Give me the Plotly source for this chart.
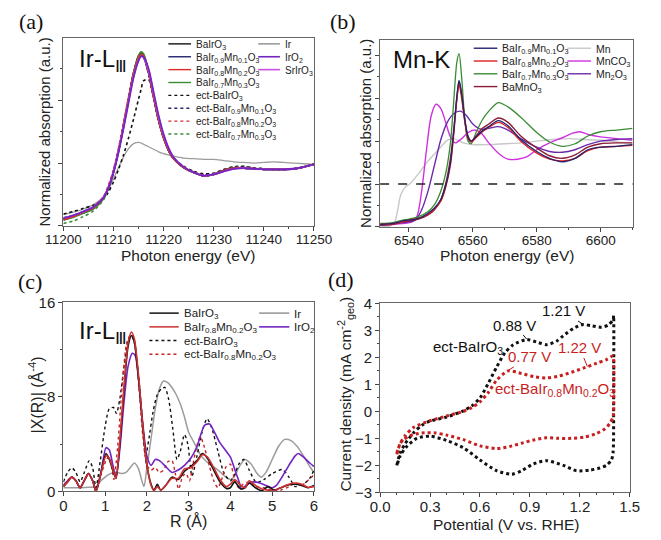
import plotly.graph_objects as go

W, H = 661, 540
def px(x): return x / W
def py(y): return 1 - y / H

SANS = "Liberation Sans, Arial, sans-serif"
SERIF = "Liberation Serif, Times New Roman, serif"

# ---------------- Panel (a): Ir L-III XANES ----------------
E_a = [11200, 11202, 11204, 11206, 11208, 11209, 11210, 11211, 11212, 11213, 11214, 11215, 11215.5,
       11216, 11217, 11218, 11219, 11220, 11221, 11222, 11224, 11226, 11228, 11230, 11232, 11234,
       11236, 11238, 11240, 11242, 11244, 11246, 11248, 11250]
a_BaIrO3 = [0.10, 0.15, 0.21, 0.28, 0.44, 0.61, 0.86, 1.20, 1.60, 2.03, 2.44, 2.71, 2.76, 2.72, 2.45,
            2.05, 1.68, 1.40, 1.20, 1.07, 0.93, 0.85, 0.80, 0.82, 0.88, 0.92, 0.92, 0.91, 0.90, 0.90,
            0.90, 0.91, 0.94, 0.98]
a_Mn01 = [0.11, 0.16, 0.22, 0.29, 0.44, 0.60, 0.85, 1.18, 1.58, 2.00, 2.40, 2.66, 2.71, 2.68, 2.43,
          2.05, 1.68, 1.40, 1.20, 1.07, 0.93, 0.85, 0.80, 0.82, 0.88, 0.92, 0.92, 0.91, 0.90, 0.90,
          0.90, 0.91, 0.94, 0.98]
a_Mn02 = [0.10, 0.15, 0.22, 0.29, 0.45, 0.62, 0.87, 1.21, 1.61, 2.03, 2.42, 2.68, 2.73, 2.70, 2.44,
          2.05, 1.68, 1.40, 1.20, 1.07, 0.93, 0.85, 0.80, 0.82, 0.88, 0.92, 0.92, 0.91, 0.90, 0.90,
          0.90, 0.91, 0.94, 0.98]
a_Mn03 = [0.09, 0.14, 0.20, 0.27, 0.43, 0.60, 0.85, 1.19, 1.60, 2.02, 2.43, 2.71, 2.77, 2.74, 2.47,
          2.06, 1.69, 1.40, 1.20, 1.07, 0.93, 0.85, 0.80, 0.82, 0.88, 0.92, 0.92, 0.91, 0.90, 0.90,
          0.90, 0.91, 0.94, 0.98]
a_Ir = [0.18, 0.22, 0.27, 0.34, 0.46, 0.58, 0.75, 0.93, 1.10, 1.23, 1.31, 1.33, 1.32, 1.30, 1.26,
        1.22, 1.18, 1.15, 1.13, 1.11, 1.08, 1.07, 1.06, 1.06, 1.04, 1.02, 1.01, 1.00, 1.01, 1.02,
        1.01, 1.00, 0.99, 0.98]
a_IrO2 = [0.12, 0.17, 0.23, 0.30, 0.45, 0.61, 0.85, 1.17, 1.55, 1.96, 2.36, 2.63, 2.70, 2.69, 2.50,
          2.13, 1.76, 1.46, 1.24, 1.09, 0.94, 0.85, 0.80, 0.82, 0.87, 0.91, 0.92, 0.91, 0.90, 0.90,
          0.90, 0.91, 0.94, 0.98]
a_SrIrO3 = [0.12, 0.17, 0.23, 0.30, 0.46, 0.62, 0.87, 1.20, 1.58, 1.99, 2.38, 2.64, 2.70, 2.68, 2.47,
            2.10, 1.73, 1.44, 1.23, 1.09, 0.94, 0.85, 0.80, 0.82, 0.87, 0.91, 0.92, 0.91, 0.90, 0.90,
            0.90, 0.91, 0.94, 0.98]
a_ectBaIrO3 = [0.19, 0.23, 0.28, 0.33, 0.43, 0.54, 0.70, 0.90, 1.13, 1.40, 1.70, 2.02, 2.17, 2.31,
               2.33, 2.05, 1.70, 1.42, 1.22, 1.08, 0.95, 0.87, 0.83, 0.84, 0.90, 0.94, 0.95, 0.92,
               0.91, 0.90, 0.90, 0.91, 0.94, 0.98]
a_ectMn01 = [0.13, 0.17, 0.23, 0.30, 0.45, 0.62, 0.87, 1.20, 1.60, 2.02, 2.42, 2.68, 2.73, 2.70, 2.44,
             2.05, 1.68, 1.40, 1.20, 1.07, 0.93, 0.86, 0.81, 0.83, 0.89, 0.93, 0.94, 0.92, 0.91, 0.90,
             0.90, 0.91, 0.94, 0.98]
a_ectMn02 = [0.11, 0.16, 0.22, 0.30, 0.47, 0.65, 0.90, 1.24, 1.64, 2.06, 2.44, 2.68, 2.72, 2.68, 2.41,
             2.03, 1.67, 1.40, 1.20, 1.07, 0.93, 0.86, 0.81, 0.83, 0.89, 0.93, 0.94, 0.92, 0.91, 0.90,
             0.90, 0.91, 0.94, 0.98]
a_ectMn03 = [0.04, 0.08, 0.15, 0.24, 0.42, 0.60, 0.85, 1.19, 1.60, 2.02, 2.42, 2.68, 2.73, 2.70, 2.44,
             2.05, 1.68, 1.40, 1.20, 1.07, 0.93, 0.86, 0.79, 0.83, 0.89, 0.94, 0.95, 0.92, 0.91, 0.90,
             0.90, 0.91, 0.94, 0.98]

# ---------------- Panel (b): Mn K-edge XANES ----------------
E_mn = [6531, 6534, 6535.5, 6536.5, 6537.5, 6539, 6540.5, 6543, 6546, 6549, 6552, 6554, 6557, 6560,
        6565, 6570, 6575, 6580, 6585, 6590, 6595, 6600, 6605, 6610]
b_Mn = [0.01, 0.01, 0.05, 0.20, 0.38, 0.47, 0.51, 0.62, 0.77, 0.89, 1.01, 1.03, 0.98, 0.96, 0.96,
        0.97, 0.98, 1.00, 1.02, 1.03, 1.02, 1.01, 0.99, 0.98]
E_mnco3 = [6531, 6538, 6541, 6542.5, 6544, 6545.5, 6547, 6548.5, 6550, 6551.5, 6553, 6554.5, 6556.5,
           6558.5, 6560.5, 6562.5, 6565, 6568, 6571, 6574, 6577, 6580, 6584, 6588, 6591, 6593.5,
           6596, 6600, 6605, 6610]
b_MnCO3 = [0.02, 0.04, 0.06, 0.12, 0.42, 0.90, 1.30, 1.43, 1.38, 1.22, 1.05, 0.98, 1.03, 1.10, 1.13,
           1.10, 0.98, 0.86, 0.79, 0.79, 0.82, 0.90, 0.98, 1.04, 1.09, 1.11, 1.08, 1.05, 1.03, 1.01]
E_mn2o3 = [6531, 6538, 6542, 6544, 6546, 6548, 6550, 6552, 6554, 6556, 6558, 6560, 6562.5, 6565,
           6568, 6571, 6575, 6580, 6584, 6588, 6592, 6596, 6600, 6605, 6610]
b_Mn2O3 = [0.02, 0.05, 0.08, 0.20, 0.42, 0.72, 1.02, 1.22, 1.32, 1.35, 1.30, 1.20, 1.14, 1.15, 1.17,
           1.13, 1.03, 0.93, 0.88, 0.87, 0.90, 0.96, 1.00, 1.02, 1.03]
E_ba = [6531, 6535, 6538, 6540, 6543, 6546, 6548, 6550, 6551.5, 6553, 6554, 6555, 6555.7, 6556.5,
        6557.5, 6558.5, 6559.5, 6561, 6563, 6565, 6568, 6571, 6575, 6580, 6584, 6588, 6592, 6596,
        6600, 6605, 6610]
b_Mn01 = [0.03, 0.04, 0.07, 0.08, 0.10, 0.16, 0.22, 0.32, 0.48, 0.75, 1.10, 1.52, 1.71, 1.55, 1.25,
          1.05, 1.00, 1.05, 1.12, 1.17, 1.24, 1.18, 1.02, 0.88, 0.80, 0.76, 0.80, 0.90, 0.93, 0.94, 0.96]
b_Mn02 = [0.03, 0.04, 0.06, 0.08, 0.10, 0.15, 0.21, 0.30, 0.46, 0.72, 1.06, 1.48, 1.66, 1.50, 1.22,
          1.03, 0.99, 1.04, 1.11, 1.16, 1.22, 1.16, 1.00, 0.86, 0.79, 0.77, 0.80, 0.89, 0.93, 0.94, 0.95]
b_Mn03 = [0.04, 0.05, 0.08, 0.09, 0.12, 0.18, 0.26, 0.42, 0.62, 0.98, 1.45, 1.92, 2.02, 1.75, 1.25,
          1.00, 0.97, 1.10, 1.25, 1.35, 1.45, 1.40, 1.28, 1.10, 0.99, 0.94, 0.97, 1.06, 1.11, 1.13, 1.15]
b_BaMnO3 = [0.02, 0.03, 0.06, 0.07, 0.09, 0.14, 0.20, 0.32, 0.50, 0.80, 1.12, 1.50, 1.70, 1.55, 1.25,
            1.06, 1.00, 1.06, 1.15, 1.20, 1.27, 1.22, 1.06, 0.92, 0.83, 0.80, 0.84, 0.93, 0.97, 0.98, 0.98]
b_ref_level = 0.5

# ---------------- Panel (c): Ir L-III EXAFS FT ----------------
R_s = [0, 0.1, 0.2, 0.3, 0.4, 0.5, 0.6, 0.7, 0.78, 0.9, 1.02, 1.1, 1.2, 1.26, 1.35, 1.45, 1.55, 1.63,
       1.7, 1.8, 1.9, 2.0, 2.1, 2.17, 2.25, 2.33, 2.45, 2.6, 2.75, 2.9, 3.05, 3.2, 3.33, 3.45, 3.6,
       3.75, 3.9, 4.0, 4.1, 4.25, 4.35, 4.45, 4.6, 4.75, 4.9, 5.05, 5.2, 5.4, 5.55, 5.7, 5.85, 6.0]
c_BaIrO3 = [0.4, 0.8, 1.2, 0.9, 0.3, 0.9, 1.5, 0.9, 0.0, 1.6, 3.2, 2.7, 1.6, 1.1, 4.0, 8.5, 12.3, 13.2,
            12.6, 9.5, 5.5, 2.2, 0.6, 0.1, 0.6, 0.1, 0.5, 1.2, 1.0, 1.7, 2.1, 2.6, 3.2, 2.8, 1.8, 0.8,
            0.25, 0.3, 0.8, 0.2, 0.3, 0.7, 0.3, 0.05, 0.4, 0.1, 0.3, 0.55, 0.6, 0.5, 0.3, 0.5]
c_Mn02 = [0.4, 0.8, 1.2, 0.9, 0.3, 0.9, 1.5, 0.9, 0.0, 1.5, 3.0, 2.8, 1.7, 1.1, 4.2, 8.8, 12.6, 13.5,
          12.9, 9.8, 5.6, 2.2, 0.5, 0.05, 0.4, 0.1, 0.5, 1.1, 1.1, 1.9, 2.0, 2.5, 3.1, 2.9, 2.0, 1.0,
          0.4, 0.6, 1.0, 0.5, 0.3, 0.9, 0.5, 0.2, 0.1, 0.05, 0.3, 0.6, 0.7, 0.6, 0.35, 0.4]
R_ect1 = [0, 0.1, 0.2, 0.3, 0.4, 0.5, 0.62, 0.7, 0.78, 0.88, 1.0, 1.1, 1.2, 1.27, 1.35, 1.45, 1.55,
          1.63, 1.7, 1.8, 1.9, 1.97, 2.05, 2.15, 2.25, 2.35, 2.43, 2.52, 2.62, 2.72, 2.8, 2.9, 2.98,
          3.08, 3.2, 3.32, 3.44, 3.55, 3.7, 3.85, 4.0, 4.1, 4.2, 4.32, 4.45, 4.62, 4.8, 5.0, 5.24,
          5.4, 5.55, 5.65, 5.8, 5.9, 6.0]
c_ectBaIrO3 = [0.8, 1.6, 2.0, 1.6, 0.8, 1.6, 2.6, 2.0, 0.3, 2.5, 5.5, 7.0, 7.1, 6.6, 7.8, 10.5, 12.8,
               13.2, 12.6, 9.8, 5.5, 3.0, 4.5, 6.8, 8.2, 8.7, 8.8, 7.8, 5.3, 2.7, 3.4, 4.8, 4.0, 1.3,
               3.0, 5.0, 6.15, 5.4, 3.4, 1.5, 0.9, 1.4, 2.3, 2.7, 1.8, 0.75, 1.0, 1.5, 1.85, 1.2, 0.4,
               0.5, 0.75, 1.1, 1.8]
R_ect2 = [0, 0.1, 0.2, 0.3, 0.4, 0.5, 0.6, 0.7, 0.78, 0.9, 1.02, 1.08, 1.15, 1.21, 1.3, 1.42, 1.52,
          1.62, 1.7, 1.8, 1.9, 2.0, 2.1, 2.2, 2.3, 2.4, 2.5, 2.6, 2.68, 2.76, 2.86, 2.94, 3.02, 3.12,
          3.2, 3.28, 3.38, 3.5, 3.6, 3.7, 3.8, 3.9, 4.0, 4.1, 4.2, 4.3, 4.45, 4.6, 4.8, 5.0, 5.2, 5.4,
          5.55, 5.7, 5.85, 6.0]
c_ectMn02 = [0.5, 0.9, 1.2, 0.9, 0.3, 0.9, 1.5, 0.9, 0.0, 1.4, 2.6, 2.9, 2.2, 1.0, 3.8, 9.5, 12.6,
             13.3, 12.8, 9.3, 4.8, 2.2, 1.8, 2.0, 1.6, 1.8, 2.5, 2.6, 1.5, 0.2, 1.3, 1.5, 0.9, 2.6,
             3.9, 4.6, 3.7, 2.1, 0.9, 0.3, 1.1, 2.1, 2.3, 1.0, 0.3, 0.6, 0.8, 0.4, 0.3, 0.1, 0.1, 0.4,
             0.7, 0.5, 0.9, 1.4]
R_ir = [0, 0.3, 0.6, 0.78, 0.9, 1.0, 1.1, 1.2, 1.3, 1.4, 1.5, 1.6, 1.7, 1.8, 1.87, 1.93, 2.0, 2.1,
        2.2, 2.3, 2.4, 2.5, 2.6, 2.7, 2.8, 2.9, 3.0, 3.15, 3.3, 3.5, 3.7, 3.88, 4.0, 4.1, 4.2, 4.34,
        4.5, 4.62, 4.74, 4.85, 5.0, 5.15, 5.3, 5.45, 5.6, 5.75, 5.9, 6.0]
c_Ir = [0.3, 0.3, 0.35, 0.4, 0.9, 1.2, 1.45, 1.6, 1.6, 1.5, 1.6, 2.0, 2.4, 1.9, 1.0, 0.4, 2.0, 4.5,
        7.0, 8.7, 9.35, 9.2, 8.8, 8.2, 7.4, 6.3, 5.0, 4.0, 3.0, 2.3, 1.8, 1.25, 1.0, 1.3, 2.0, 2.7,
        2.3, 1.6, 1.2, 1.6, 2.7, 3.8, 4.4, 4.3, 3.8, 3.0, 2.1, 1.6]
R_iro2 = [0, 0.1, 0.2, 0.3, 0.4, 0.5, 0.6, 0.7, 0.78, 0.9, 1.02, 1.1, 1.18, 1.26, 1.35, 1.45, 1.55,
          1.65, 1.72, 1.8, 1.9, 2.0, 2.1, 2.2, 2.3, 2.45, 2.6, 2.75, 2.9, 3.05, 3.2, 3.38, 3.5, 3.62,
          3.75, 3.9, 4.0, 4.1, 4.2, 4.27, 4.4, 4.55, 4.7, 4.85, 5.0, 5.1, 5.25, 5.4, 5.55, 5.62,
          5.75, 5.9, 6.0]
c_IrO2 = [0.5, 0.9, 1.2, 0.9, 0.3, 0.9, 1.5, 0.9, 0.0, 1.6, 3.7, 3.5, 2.3, 1.2, 3.5, 7.5, 10.6, 11.7,
          11.5, 9.5, 5.8, 3.0, 2.2, 2.7, 2.6, 2.1, 1.6, 1.8, 2.2, 2.8, 3.8, 5.6, 5.7, 5.0, 4.1, 3.4,
          2.9, 1.9, 0.9, 0.2, 0.6, 0.8, 0.7, 0.5, 0.3, 0.5, 1.3, 2.2, 3.0, 3.2, 2.9, 2.4, 2.1]

# ---------------- Panel (d): cyclic voltammograms ----------------
P_ect = [0.10, 0.12, 0.15, 0.20, 0.25, 0.30, 0.40, 0.50, 0.55, 0.60, 0.65, 0.70, 0.75, 0.80, 0.88,
         0.95, 1.00, 1.06, 1.10, 1.16, 1.22, 1.27, 1.33, 1.37, 1.40, 1.403, 1.403, 1.40, 1.39, 1.36,
         1.32, 1.26, 1.18, 1.10, 1.00, 0.92, 0.85, 0.79, 0.70, 0.60, 0.50, 0.40, 0.30, 0.22, 0.16,
         0.12, 0.10]
J_ect = [-2.00, -1.55, -1.20, -0.80, -0.52, -0.36, -0.21, 0.02, 0.20, 0.50, 1.04, 1.64, 2.17, 2.47,
         2.66, 2.55, 2.47, 2.60, 2.80, 3.07, 3.22, 3.17, 3.12, 3.20, 3.40, 3.55, 0.50, -1.50, -1.80,
         -2.00, -2.10, -2.18, -2.20, -2.00, -1.83, -1.95, -2.20, -2.33, -2.20, -1.80, -1.35, -1.08,
         -0.92, -1.00, -1.30, -1.65, -2.05]
P_ectMn = [0.10, 0.12, 0.15, 0.20, 0.30, 0.40, 0.50, 0.55, 0.60, 0.65, 0.70, 0.77, 0.85, 0.93, 1.00,
           1.07, 1.15, 1.22, 1.30, 1.36, 1.40, 1.403, 1.403, 1.40, 1.38, 1.35, 1.30, 1.23, 1.15, 1.07,
           1.00, 0.93, 0.85, 0.78, 0.70, 0.60, 0.50, 0.40, 0.33, 0.25, 0.18, 0.14, 0.12, 0.10]
J_ectMn = [-1.55, -1.20, -0.90, -0.60, -0.35, -0.17, 0.00, 0.14, 0.35, 0.70, 1.15, 1.50, 1.40, 1.28,
           1.24, 1.30, 1.45, 1.60, 1.78, 1.92, 2.05, 1.90, 0.00, -0.20, -0.45, -0.65, -0.82, -0.95,
           -1.00, -1.00, -0.98, -1.05, -1.18, -1.30, -1.38, -1.28, -1.05, -0.88, -0.80, -0.80, -0.90,
           -1.05, -1.20, -1.60]

# colours
C_BLACK = "#111111"
C_NAVY = "#24246e"
C_RED = "#dd2a2a"
C_GREEN = "#3a8c34"
C_GRAY = "#9c9c9c"
C_PURPLE = "#7424c0"
C_MAGENTA = "#cc4ee0"
C_LGRAY = "#c8c8c8"
C_MAROON = "#8a1c36"
C_DRED = "#c42424"

fig = go.Figure()

def add(x, y, color, dash="solid", width=1.5, ax="", smooth=0.8):
    fig.add_trace(go.Scatter(x=x, y=y, mode="lines", xaxis="x" + ax, yaxis="y" + ax,
                             line=dict(color=color, width=width, dash=dash, shape="spline",
                                       smoothing=smooth),
                             showlegend=False, hoverinfo="skip"))

# (a)
add(E_a, a_Ir, C_GRAY, width=1.3)
add(E_a, a_ectBaIrO3, C_BLACK, "dot", 1.6)
add(E_a, a_ectMn03, C_GREEN, "dot", 1.6)
add(E_a, a_ectMn02, C_RED, "dot", 1.6)
add(E_a, a_ectMn01, C_NAVY, "dot", 1.6)
add(E_a, a_BaIrO3, C_BLACK, width=1.6)
add(E_a, a_Mn01, C_NAVY, width=1.6)
add(E_a, a_Mn03, C_GREEN, width=1.6)
add(E_a, a_Mn02, C_RED, width=1.6)
add(E_a, a_SrIrO3, C_MAGENTA, width=1.8)
add(E_a, a_IrO2, C_PURPLE, width=1.8)

# (b)
add(E_mn, b_Mn, C_LGRAY, width=1.4, ax="2")
add(E_mnco3, b_MnCO3, "#d030e0", width=1.4, ax="2")
add(E_mn2o3, b_Mn2O3, "#6a2aaa", width=1.4, ax="2")
add(E_ba, b_Mn03, C_GREEN, width=1.3, ax="2")
add(E_ba, b_BaMnO3, C_MAROON, width=1.4, ax="2")
add(E_ba, b_Mn02, "#e02020", width=1.3, ax="2")
add(E_ba, b_Mn01, C_NAVY, width=1.3, ax="2")
fig.add_shape(type="line", xref="x2 domain", yref="y2", x0=0, x1=1, y0=b_ref_level, y1=b_ref_level,
              line=dict(color="#222", width=1.4, dash="dash"))

# (c)
add(R_ir, c_Ir, C_GRAY, width=1.5, ax="3", smooth=0.7)
add(R_ect1, c_ectBaIrO3, C_BLACK, "dot", 1.4, ax="3", smooth=0.7)
add(R_ect2, c_ectMn02, C_DRED, "dot", 1.4, ax="3", smooth=0.7)
add(R_iro2, c_IrO2, C_PURPLE, width=1.6, ax="3", smooth=0.7)
add(R_s, c_BaIrO3, C_BLACK, width=1.6, ax="3", smooth=0.7)
add(R_s, c_Mn02, "#cc3030", width=1.6, ax="3", smooth=0.7)

# (d)
add(P_ect, J_ect, C_BLACK, "dot", 3, ax="4", smooth=0.7)
add(P_ectMn, J_ectMn, "#c81e1e", "dot", 3, ax="4", smooth=0.7)

# axes
def axis_common(**kw):
    d = dict(showline=True, linecolor="#666", linewidth=1.2, mirror=True, ticks="outside",
             ticklen=4, tickcolor="#444", showgrid=False, zeroline=False,
             tickfont=dict(family=SANS, size=13.5, color="#222"))
    d.update(kw)
    return d

fig.update_layout(
    width=W, height=H, autosize=False, margin=dict(l=0, r=0, t=0, b=0),
    paper_bgcolor="white", plot_bgcolor="white",
    xaxis=axis_common(domain=[px(48), px(313)], range=[11200, 11250], anchor="y", dtick=10,
                      tickformat="d", ticklabelstandoff=-3,
                      minor=dict(ticks="outside", ticklen=2, dtick=5, tickcolor="#444")),
    yaxis=axis_common(domain=[py(224), py(30)], range=[0, 2.99], anchor="x", dtick=1, tick0=0,
                      showticklabels=False,
                      minor=dict(ticks="outside", ticklen=2, dtick=0.5, tickcolor="#444")),
    xaxis2=axis_common(domain=[px(383), px(650)], range=[6531, 6610], anchor="y2", dtick=20,
                       tick0=6540, tickformat="d", ticklabelstandoff=-3,
                       minor=dict(ticks="outside", ticklen=2, dtick=10, tickcolor="#444")),
    yaxis2=axis_common(domain=[py(225), py(32)], range=[0, 2.18], anchor="x2", dtick=0.5, tick0=0,
                       showticklabels=False,
                       minor=dict(ticks="outside", ticklen=2, dtick=0.25, tickcolor="#444")),
    xaxis3=axis_common(domain=[px(48), px(313)], range=[0, 6], anchor="y3", dtick=1,
                       ticklabelstandoff=-3,
                       tickfont=dict(family=SANS, size=15, color="#222")),
    yaxis3=axis_common(domain=[py(498), py(303)], range=[0, 16], anchor="x3", tickvals=[0, 8, 16],
                       tickfont=dict(family=SANS, size=15, color="#222"),
                       minor=dict(ticks="outside", ticklen=2, dtick=4, tickcolor="#444")),
    xaxis4=axis_common(domain=[px(383), px(647)], range=[0, 1.5], anchor="y4", dtick=0.3, tick0=0,
                       tickformat=".1f", ticklabelstandoff=-3,
                       tickfont=dict(family=SANS, size=15, color="#222"),
                       minor=dict(ticks="outside", ticklen=2, dtick=0.1, tickcolor="#444")),
    yaxis4=axis_common(domain=[py(499), py(304)], range=[-3, 4], anchor="x4", dtick=1,
                       tickfont=dict(family=SANS, size=15, color="#222"),
                       minor=dict(ticks="outside", ticklen=2, dtick=0.5, tickcolor="#444")),
)

ann = []
def text(x, y, t, size=15, color="#222", family=SANS, angle=0, xanchor="center", yanchor="middle"):
    ann.append(dict(x=px(x), y=py(y), xref="paper", yref="paper", text=t, showarrow=False,
                    font=dict(family=family, size=size, color=color), textangle=angle,
                    xanchor=xanchor, yanchor=yanchor))

# panel labels
text(14, 13, "(a)", 22, "#111", SERIF)
text(344, 13, "(b)", 22, "#111", SERIF)
text(13, 281, "(c)", 22, "#111", SERIF)
text(342, 279, "(d)", 22, "#111", SERIF)

# axis titles
text(180, 255, "Photon energy (eV)", 15.5)
text(27, 127, "Normalized absorption (a.u.)", 15, angle=-90)
text(517, 255, "Photon energy (eV)", 15.5)
text(368, 128, "Normalized absorption (a.u.)", 15, angle=-90)
text(180, 529, "R (Å)", 16)
text(20, 398, "|X(R)| (Å<sup>-4</sup>)", 16, angle=-90)
text(516, 532, "Potential (V vs. RHE)", 15.5)
text(347, 398, "Current density (mA cm<sup>-2</sup><sub>geo</sub>)", 15.5, angle=-90)

# in-panel labels
text(62, 53, "Ir-L<sub>Ⅲ</sub>", 24, "#111", xanchor="left")
text(395, 52, "Mn-K", 24, "#111", xanchor="left")
text(62, 334, "Ir-L<sub>Ⅲ</sub>", 24, "#111", xanchor="left")

shapes = []
def leg(x0, x1, y, color, dash, label, size, width=1.6):
    shapes.append(dict(type="line", xref="paper", yref="paper", x0=px(x0), x1=px(x1),
                       y0=py(y), y1=py(y), line=dict(color=color, width=width, dash=dash)))
    text(x1 + 3, y + 1, label, size, "#222", xanchor="left")

# legend (a)
la = [("BaIrO<sub>3</sub>", C_BLACK, "solid"),
      ("BaIr<sub>0.9</sub>Mn<sub>0.1</sub>O<sub>3</sub>", C_NAVY, "solid"),
      ("BaIr<sub>0.8</sub>Mn<sub>0.2</sub>O<sub>3</sub>", C_RED, "solid"),
      ("BaIr<sub>0.7</sub>Mn<sub>0.3</sub>O<sub>3</sub>", C_GREEN, "solid"),
      ("ect-BaIrO<sub>3</sub>", C_BLACK, "dot"),
      ("ect-BaIr<sub>0.9</sub>Mn<sub>0.1</sub>O<sub>3</sub>", C_NAVY, "dot"),
      ("ect-BaIr<sub>0.8</sub>Mn<sub>0.2</sub>O<sub>3</sub>", C_RED, "dot"),
      ("ect-BaIr<sub>0.7</sub>Mn<sub>0.3</sub>O<sub>3</sub>", C_GREEN, "dot")]
for i, (lab, col, d) in enumerate(la):
    leg(159, 183, 36 + 13.3 * i, col, d, lab, 10, 1.4)
la2 = [("Ir", C_GRAY, "solid"), ("IrO<sub>2</sub>", C_PURPLE, "solid"),
       ("SrIrO<sub>3</sub>", C_MAGENTA, "solid")]
for i, (lab, col, d) in enumerate(la2):
    leg(254, 277, 36 + 13.3 * i, col, d, lab, 10, 1.6)

# legend (b)
lb = [("BaIr<sub>0.9</sub>Mn<sub>0.1</sub>O<sub>3</sub>", C_NAVY),
      ("BaIr<sub>0.8</sub>Mn<sub>0.2</sub>O<sub>3</sub>", "#e02020"),
      ("BaIr<sub>0.7</sub>Mn<sub>0.3</sub>O<sub>3</sub>", C_GREEN),
      ("BaMnO<sub>3</sub>", C_MAROON)]
for i, (lab, col) in enumerate(lb):
    leg(482, 507, 40.5 + 13.2 * i, col, "solid", lab, 10.5, 1.4)
lb2 = [("Mn", C_LGRAY), ("MnCO<sub>3</sub>", "#d030e0"), ("Mn<sub>2</sub>O<sub>3</sub>", "#6a2aaa")]
for i, (lab, col) in enumerate(lb2):
    leg(581, 606, 40.5 + 13.2 * i, col, "solid", lab, 10.5, 1.4)

# legend (c)
lc = [("BaIrO<sub>3</sub>", C_BLACK, "solid"),
      ("BaIr<sub>0.8</sub>Mn<sub>0.2</sub>O<sub>3</sub>", "#cc3030", "solid"),
      ("ect-BaIrO<sub>3</sub>", C_BLACK, "dot"),
      ("ect-BaIr<sub>0.8</sub>Mn<sub>0.2</sub>O<sub>3</sub>", C_DRED, "dot")]
for i, (lab, col, d) in enumerate(lc):
    leg(139, 170, 314 + 14.2 * i, col, d, lab, 11.5, 1.5)
lc2 = [("Ir", C_GRAY), ("IrO<sub>2</sub>", C_PURPLE)]
for i, (lab, col) in enumerate(lc2):
    leg(255, 287, 314 + 14.2 * i, col, "solid", lab, 11.5, 1.6)

# (d) annotations
def dnote(t, tx, ty, x=None, y=None, color="#111"):
    a = dict(xref="x4", yref="y4", text=t, font=dict(family=SANS, size=15, color=color))
    if x is None:
        a.update(x=tx, y=ty, showarrow=False)
    else:
        a.update(x=x, y=y, ax=tx, ay=ty, axref="x4", ayref="y4", showarrow=True, arrowhead=0,
                 arrowwidth=1, arrowcolor=color, standoff=0)
    ann.append(a)

dnote("1.21 V", 1.10, 3.72, 1.22, 3.22)
dnote("0.88 V", 0.81, 3.20, 0.88, 2.68)
dnote("ect-BaIrO<sub>3</sub>", 0.53, 2.35)
dnote("0.77 V", 0.90, 2.02, 0.77, 1.52, "#c81e1e")
dnote("1.22 V", 1.20, 2.35, 1.245, 1.66, "#c81e1e")
dnote("ect-BaIr<sub>0.8</sub>Mn<sub>0.2</sub>O<sub>3</sub>", 1.05, 0.82, color="#c81e1e")

fig.update_layout(annotations=ann, shapes=list(fig.layout.shapes) + shapes)
fig.write_html("out.html", config={"displayModeBar": False},
               post_script="document.body.style.margin='0';document.body.style.padding='0';")
